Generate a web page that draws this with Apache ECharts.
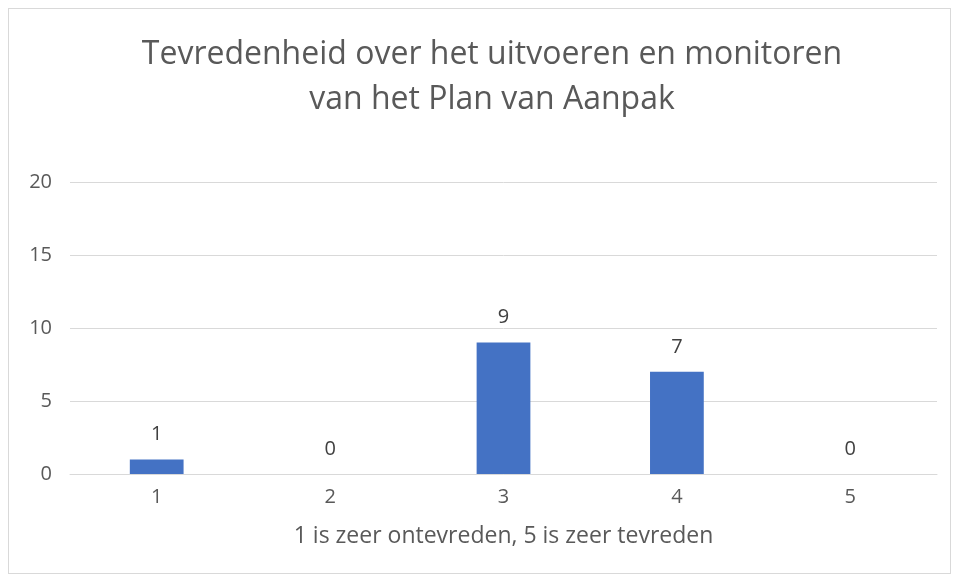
<!DOCTYPE html>
<html>
<head>
<meta charset="utf-8">
<script src="https://cdn.jsdelivr.net/npm/echarts@6/dist/echarts.min.js"></script>
<style>
  html, body { margin: 0; padding: 0; background: #fff; }
  #frame { position: absolute; left: 8px; top: 8px; width: 943px; height: 566px; border: 1px solid #d9d9d9; box-sizing: border-box; }
  #chart { position: absolute; left: 0; top: 0; width: 957px; height: 579px; }
</style>
</head>
<body>
<div id="frame"></div>
<div id="chart"></div>
<script>
const categories = ['1', '2', '3', '4', '5'];
const counts = [1, 0, 9, 7, 0];
const yTicks = [0, 5, 10, 15, 20];

const chart = echarts.init(document.getElementById('chart'));
chart.setOption({
  animation: false,
  title: {
    text: 'Tevredenheid over het uitvoeren en monitoren\nvan het Plan van Aanpak',
    left: 487,
    textAlign: 'center',
    top: 27,
    textStyle: { color: '#595959', fontSize: 32, fontWeight: 'normal', lineHeight: 45, fontFamily: 'Open Sans' }
  },
  grid: { left: 70, right: 20, top: 182, bottom: 105 },
  xAxis: {
    type: 'category',
    data: categories,
    name: '1 is zeer ontevreden, 5 is zeer tevreden',
    nameLocation: 'middle',
    nameGap: 51,
    nameTextStyle: { color: '#595959', fontSize: 23, fontFamily: 'Open Sans' },
    axisLine: { lineStyle: { color: '#d9d9d9', width: 1 } },
    axisTick: { show: false },
    axisLabel: { color: '#595959', fontSize: 20, margin: 13, fontFamily: 'Open Sans' }
  },
  yAxis: {
    type: 'value',
    min: yTicks[0],
    max: yTicks[yTicks.length - 1],
    interval: 5,
    axisLine: { show: false },
    axisTick: { show: false },
    axisLabel: { color: '#595959', fontSize: 20, margin: 18, fontFamily: 'Open Sans' },
    splitLine: { lineStyle: { color: '#d9d9d9', width: 1 } }
  },
  series: [{
    type: 'bar',
    data: counts,
    barWidth: '31%',
    itemStyle: { color: '#4472c4' },
    label: { show: true, position: 'top', distance: 15, color: '#404040', fontSize: 20, fontFamily: 'Open Sans' }
  }]
});
</script>
</body>
</html>
